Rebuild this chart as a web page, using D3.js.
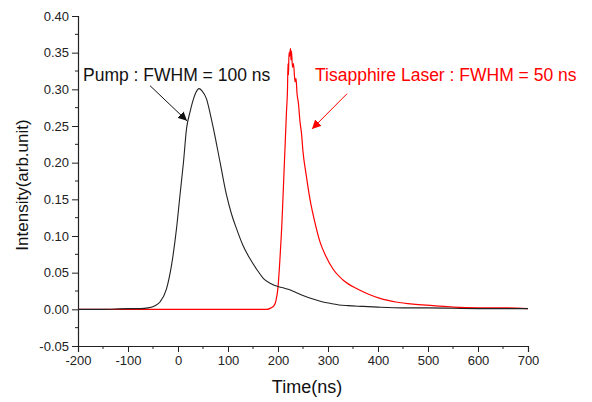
<!DOCTYPE html>
<html>
<head>
<meta charset="utf-8">
<script src="https://cdn.jsdelivr.net/npm/d3@7"></script>
<style>
  body { margin: 0; background: #fff; }
  text { font-family: Arial, "Liberation Sans", sans-serif; }
</style>
</head>
<body>
<div id="chart-area"></div>
<script>
// pump pulse (black), time in ns
const pumpTime = [-200, -150, -100, -75, -60, -46, -36, -23, -13, -3, 4, 11, 17, 24, 31, 36, 42, 48, 57, 64, 71, 84, 97, 107, 117, 130, 144, 158, 171, 186, 200, 212, 222, 236, 250, 270, 290, 306, 322, 340, 370, 400, 450, 500, 600, 700]
const pumpValue = [0, 0, 0.001, 0.001, 0.002, 0.005, 0.01, 0.028, 0.06, 0.11, 0.156, 0.201, 0.246, 0.269, 0.287, 0.296, 0.301, 0.298, 0.287, 0.268, 0.246, 0.201, 0.156, 0.13, 0.11, 0.087, 0.069, 0.054, 0.042, 0.035, 0.031, 0.029, 0.027, 0.023, 0.019, 0.014, 0.01, 0.008, 0.006, 0.005, 0.004, 0.003, 0.002, 0.002, 0.001, 0.001]

// Ti:sapphire laser pulse (red)
const laserTime = [-200, 0, 100, 178, 186, 192, 196, 200, 204, 208, 211, 214, 217, 219, 220, 221, 222, 223, 225, 226, 227, 229, 231, 234, 236, 238, 241, 244, 247, 250, 256, 264, 274, 284, 296, 310, 330, 358, 380, 404, 436, 470, 510, 550, 600, 650, 700]
const laserValue = [0, 0, 0, 0, 0.002, 0.005, 0.012, 0.03, 0.07, 0.12, 0.17, 0.22, 0.27, 0.3, 0.335, 0.32, 0.35, 0.345, 0.356, 0.34, 0.352, 0.33, 0.335, 0.31, 0.315, 0.295, 0.28, 0.256, 0.24, 0.215, 0.185, 0.15, 0.118, 0.092, 0.072, 0.055, 0.04, 0.028, 0.021, 0.015, 0.01, 0.007, 0.005, 0.003, 0.002, 0.002, 0.001]

const xTicks = [-200, -100, 0, 100, 200, 300, 400, 500, 600, 700]
const yTicks = [-0.05, 0, 0.05, 0.1, 0.15, 0.2, 0.25, 0.3, 0.35, 0.4]

const MARGIN = { LEFT: 78, RIGHT: 64, TOP: 16, BOTTOM: 56 }
const WIDTH = 592 - MARGIN.LEFT - MARGIN.RIGHT
const HEIGHT = 402 - MARGIN.TOP - MARGIN.BOTTOM

const svg = d3.select("#chart-area").append("svg")
  .attr("width", 592)
  .attr("height", 402)

const defs = svg.append("defs")
function addArrow(id, color) {
  defs.append("marker")
    .attr("id", id)
    .attr("viewBox", "0 0 10 10")
    .attr("refX", 10)
    .attr("refY", 5)
    .attr("markerWidth", 9)
    .attr("markerHeight", 9)
    .attr("markerUnits", "userSpaceOnUse")
    .attr("orient", "auto")
    .append("path")
    .attr("d", "M0,0 L10,5 L0,10 Z")
    .attr("fill", color)
}
addArrow("arrow-black", "#111")
addArrow("arrow-red", "#ff0000")

const g = svg.append("g")
  .attr("transform", `translate(${MARGIN.LEFT}, ${MARGIN.TOP})`)

const x = d3.scaleLinear().domain([-200, 700]).range([0, WIDTH])
const y = d3.scaleLinear().domain([-0.05, 0.4]).range([HEIGHT, 0])

// plain hyphen instead of unicode minus
const xFmt = d => String(d)
const yFmt = d => d.toFixed(2)

// minor ticks
const xMinor = d3.range(-150, 700, 100)
const yMinor = d3.range(-0.025, 0.4, 0.05)

const xAxisCall = d3.axisBottom(x)
  .tickValues(xTicks)
  .tickSize(6)
  .tickPadding(4)
  .tickFormat(xFmt)
const xAxisGroup = g.append("g")
  .attr("transform", `translate(0, ${HEIGHT})`)
  .call(xAxisCall)
xAxisGroup.selectAll(".minor")
  .data(xMinor)
  .enter().append("line")
  .attr("x1", d => x(d)).attr("x2", d => x(d))
  .attr("y1", 0).attr("y2", 3)
  .attr("stroke", "#222")

const yAxisCall = d3.axisLeft(y)
  .tickValues(yTicks)
  .tickSize(6)
  .tickPadding(3)
  .tickFormat(yFmt)
const yAxisGroup = g.append("g").call(yAxisCall)
yAxisGroup.selectAll(".minor")
  .data(yMinor)
  .enter().append("line")
  .attr("x1", -3).attr("x2", 0)
  .attr("y1", d => y(d)).attr("y2", d => y(d))
  .attr("stroke", "#222")

g.selectAll(".domain").attr("stroke", "#222").attr("stroke-width", 1.2)
g.selectAll(".tick line").attr("stroke", "#222")
g.selectAll(".tick text")
  .attr("font-size", "13px")
  .attr("fill", "#222")
  .attr("font-family", "Arial, 'Liberation Sans', sans-serif")

// axis labels
g.append("text")
  .attr("x", WIDTH / 2 + 4)
  .attr("y", HEIGHT + 47)
  .attr("font-size", "18px")
  .attr("text-anchor", "middle")
  .attr("fill", "#111")
  .text("Time(ns)")

g.append("text")
  .attr("transform", "rotate(-90)")
  .attr("x", -(HEIGHT / 2 + 4))
  .attr("y", -50)
  .attr("font-size", "17px")
  .attr("text-anchor", "middle")
  .attr("fill", "#111")
  .text("Intensity(arb.unit)")

const line = d3.line()
  .x(d => x(d[0]))
  .y(d => y(d[1]))
  .curve(d3.curveMonotoneX)

g.append("path")
  .datum(d3.zip(laserTime, laserValue))
  .attr("fill", "none")
  .attr("stroke", "#ff0000")
  .attr("stroke-width", 1.2)
  .attr("d", line)

g.append("path")
  .datum(d3.zip(pumpTime, pumpValue))
  .attr("fill", "none")
  .attr("stroke", "#222")
  .attr("stroke-width", 1.1)
  .attr("d", line)

// annotations
g.append("text")
  .attr("x", x(-190))
  .attr("y", y(0.311))
  .attr("font-size", "17.5px")
  .attr("fill", "#111")
  .text("Pump : FWHM = 100 ns")

g.append("line")
  .attr("x1", x(-56)).attr("y1", y(0.305))
  .attr("x2", x(18)).attr("y2", y(0.257))
  .attr("stroke", "#111")
  .attr("marker-end", "url(#arrow-black)")

g.append("text")
  .attr("x", x(274))
  .attr("y", y(0.311))
  .attr("font-size", "17.5px")
  .attr("fill", "#ff0000")
  .text("Tisapphire Laser : FWHM = 50 ns")

g.append("line")
  .attr("x1", x(338)).attr("y1", y(0.294))
  .attr("x2", x(268)).attr("y2", y(0.246))
  .attr("stroke", "#ff0000")
  .attr("marker-end", "url(#arrow-red)")
</script>
</body>
</html>
